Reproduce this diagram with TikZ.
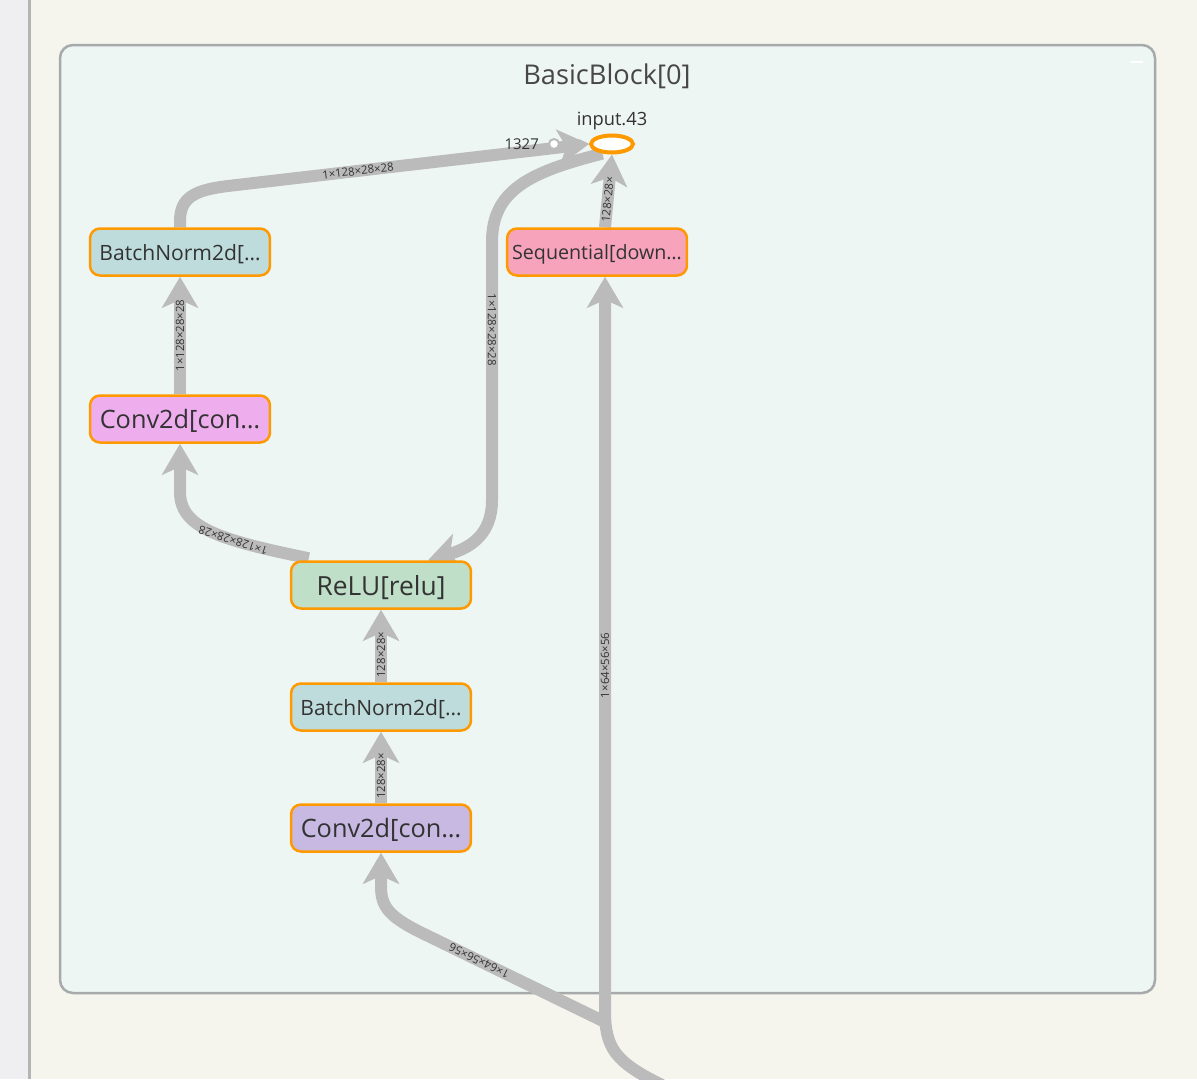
\documentclass[tikz,border=0pt]{standalone}
\usepackage{fontspec}
\setmainfont{Open Sans}
\usetikzlibrary{arrows.meta,positioning,calc,shapes.geometric}
\definecolor{pagebg}{HTML}{F5F5EE}
\definecolor{stripbg}{HTML}{EFEFF1}
\definecolor{stripline}{HTML}{B4B4B4}
\definecolor{groupbg}{HTML}{EEF6F4}
\definecolor{groupline}{HTML}{A6AAAB}
\definecolor{opline}{HTML}{FF9900}
\definecolor{edgegray}{HTML}{BBBBBB}
\definecolor{optext}{HTML}{333333}
\definecolor{bnfill}{HTML}{BFDCDC}
\definecolor{convafill}{HTML}{EEAEEE}
\definecolor{convbfill}{HTML}{C7B9E2}
\definecolor{relufill}{HTML}{BFDFC8}
\definecolor{seqfill}{HTML}{F6A3BB}
\pgfdeclarelayer{bg}
\pgfdeclarelayer{edges}
\pgfsetlayers{bg,edges,main}
\tikzset{
  op/.style={draw=opline, line width=0.05cm, rounded corners=0.2cm,
    minimum width=3.6cm, minimum height=0.94cm, inner sep=0pt, text=optext,
    text depth=0pt},
  flow/.style={draw=edgegray, line width=0.24cm,
    -{Stealth[length=0.62cm,width=0.72cm,inset=0.16cm]}},
  dims/.style={font=\fontsize{6.5}{6.5}\selectfont, text=optext, sloped,
    allow upside down, inner sep=0pt},
}

\begin{document}
\begin{tikzpicture}[x=0.02cm, y=-0.02cm]
  %%%%% frame %%%%%
  \useasboundingbox (0,0) rectangle (1197,1079);
  \begin{pgfonlayer}{bg}
    \fill[pagebg] (0,0) rectangle (1197,1079);
    \fill[stripbg] (0,0) rectangle (28,1079);
    \fill[stripline] (28,0) rectangle (31,1079);
    \draw[groupline, fill=groupbg, line width=0.05cm, rounded corners=0.26cm]
      (60,45) rectangle (1155,993);
    \draw[white, line width=0.04cm] (1131,62) -- (1143,62);
  \end{pgfonlayer}

  \node[text=optext!90!white, font=\fontsize{15.5}{15.5}\selectfont] (title) at (607,76) {BasicBlock[0]};

  %%%%% ops %%%%%
  \node[op, fill=bnfill, font=\fontsize{12}{12}\selectfont] (bnTop) at (180,252) {BatchNorm2d[…};
  \node[op, fill=convafill, font=\fontsize{14.4}{14.4}\selectfont] (convTop) at (180,419) {Conv2d[con…};
  \node[op, fill=relufill, font=\fontsize{15}{15}\selectfont] (relu) at (381,585) {ReLU[relu]};
  \node[op, fill=bnfill, font=\fontsize{12}{12}\selectfont] (bnLow) at (381,707) {BatchNorm2d[…};
  \node[op, fill=convbfill, font=\fontsize{14.4}{14.4}\selectfont] (convLow) at (381,828) {Conv2d[con…};
  \node[op, fill=seqfill, font=\fontsize{11.2}{11.2}\selectfont] (seq) at (597,252) {Sequential[down…};

  \node[ellipse, draw=opline, fill=white, line width=0.08cm, minimum width=0.84cm,
    minimum height=0.34cm, inner sep=0pt] (input) at (612,144) {};
  \node[above=-0.05cm of input, text=optext, font=\fontsize{10.4}{10.4}\selectfont] (inputLbl) {input.43};
  \node[circle, draw=edgegray, fill=white, line width=0.04cm, minimum size=0.2cm,
    inner sep=0pt] (ctl) at (554,144) {};
  \node[left=0.06cm of ctl, text=optext, font=\fontsize{8.5}{8.5}\selectfont] (ctlLbl) {1327};
  \coordinate (entry) at (605,1022);
  \coordinate (outside) at (662,1085);

  %%%%% edges %%%%%
  \begin{pgfonlayer}{edges}
    \draw[flow] (bnTop.north) -- ++(0,-6) .. controls +(0,-24) and (195,190) .. (228,186)
      -- node[dims, pos=0.36] {1×128×28×28} (input.west);
    \draw[flow] (convTop.north) -- node[dims] {1×128×28×28} (bnTop.south);
    \draw[flow] ($(relu.north west)+(19,-2)$) .. controls (220,540) and (180,528) .. (180,492)
      node[dims, pos=0.35] {1×128×28×28} -- (convTop.south);
    \draw[flow] (convLow.north) -- node[dims, pos=0.38] {128×28×} (bnLow.south);
    \draw[flow] (bnLow.north) -- node[dims, pos=0.38] {128×28×} (relu.south);
    \draw[flow] (input.225) .. controls (530,172) and (492,190) .. (492,242)
      -- node[dims, pos=0.34] {1×128×28×28} (492,500)
      .. controls (492,535) and (470,548) .. ($(relu.north)+(47,0)$);
    \draw[flow] ($(seq.north)+(8,0)$) -- node[dims, pos=0.38] {128×28×} (input.south);
    \draw[flow] (outside) .. controls (615,1062) and (605,1048) .. (605,1010)
      -- node[dims, pos=0.47] {1×64×56×56} ($(seq.south)+(8,0)$);
    \draw[flow] (entry) -- node[dims, pos=0.68] {1×64×56×56} (420,932)
      .. controls (388,916) and (381,906) .. (381,886) -- (convLow.south);
    \draw[edgegray, line width=0.04cm, -{Stealth[length=0.2cm,width=0.2cm]}] (ctl) -- (input);
  \end{pgfonlayer}
\end{tikzpicture}
\end{document}
